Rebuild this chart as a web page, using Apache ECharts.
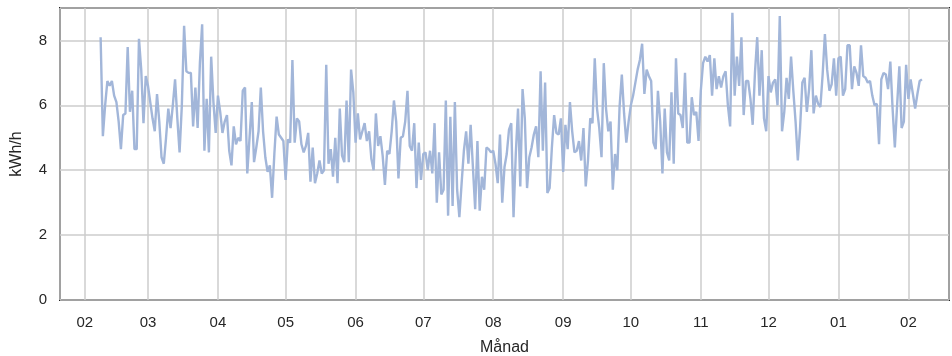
<!DOCTYPE html>
<html>
<head>
<meta charset="utf-8">
<script src="https://cdn.jsdelivr.net/npm/echarts@6/dist/echarts.min.js"></script>
<style>
  html, body { margin: 0; padding: 0; background: #fff; }
  #chart { width: 952px; height: 356px; }
</style>
</head>
<body>
<div id="chart"></div>
<script>
// daily mean power, kWh/h, starting 2022-02-08
var startDate = [2022, 1, 8];
var kwh = [
    8.1, 5.05, 6.0, 6.75, 6.6, 6.75, 6.3, 6.1, 5.5, 4.65, 5.7, 5.75, 7.8, 5.8, 6.45, 4.65, 4.65, 8.05, 7.1, 5.45,
    6.9, 6.6, 6.1, 5.6, 5.2, 6.35, 5.5, 4.4, 4.2, 5.0, 5.9, 5.3, 6.0, 6.8, 5.6, 4.55, 6.0, 8.45, 7.05, 7.0,
    7.0, 5.35, 6.55, 5.3, 7.3, 8.5, 4.6, 6.2, 4.55, 7.5, 6.1, 5.15, 6.3, 5.8, 5.15, 5.5, 5.7, 4.6, 4.15, 5.35,
    4.8, 5.0, 4.9, 6.45, 6.55, 3.9, 5.0, 6.1, 4.25, 4.7, 5.2, 6.55, 5.2, 4.4, 3.95, 4.15, 3.15, 4.5, 5.65, 5.1,
    5.0, 4.9, 3.7, 4.95, 4.85, 7.4, 4.85, 5.6, 5.5, 4.8, 4.55, 4.75, 5.15, 3.65, 4.7, 3.6, 3.9, 4.3, 3.9, 4.0,
    7.25, 4.2, 4.65, 3.8, 5.0, 3.6, 5.9, 4.45, 4.25, 6.15, 4.25, 7.1, 6.4, 4.85, 5.75, 4.95, 5.2, 5.45, 4.9, 5.2,
    4.35, 4.0, 5.75, 4.75, 5.05, 4.45, 3.55, 4.6, 4.5, 5.2, 6.15, 5.5, 3.75, 5.0, 5.05, 5.5, 6.45, 4.75, 4.6, 5.45,
    3.45, 4.85, 3.7, 4.5, 4.55, 4.0, 4.6, 3.9, 5.45, 3.0, 4.55, 3.25, 3.4, 6.15, 2.6, 5.65, 2.9, 6.1, 3.4, 2.55,
    3.6, 4.6, 5.2, 4.2, 5.4, 4.1, 2.8, 4.9, 2.75, 3.8, 3.4, 4.7, 4.65, 4.55, 4.6, 4.2, 3.6, 5.1, 3.0, 4.1,
    4.5, 5.25, 5.45, 2.55, 4.5, 5.9, 3.5, 6.5, 5.6, 3.45, 4.4, 4.7, 5.1, 5.35, 4.4, 7.05, 4.6, 6.7, 3.3, 3.45,
    4.7, 5.7, 5.15, 5.1, 5.6, 3.95, 5.4, 4.65, 6.1, 5.2, 4.55, 4.6, 4.9, 4.3, 5.3, 3.5, 4.3, 5.6, 5.45, 7.45,
    5.9, 5.3, 4.4, 7.3, 5.9, 5.2, 5.5, 3.4, 4.5, 4.0, 5.95, 6.95, 5.75, 4.85, 5.5, 6.0, 6.3, 6.7, 7.1, 7.4,
    7.9, 6.35, 7.1, 6.9, 6.75, 4.85, 4.65, 6.45, 5.5, 3.9, 5.9, 4.55, 4.3, 6.4, 4.2, 7.45, 5.75, 5.7, 5.3, 7.0,
    4.85, 4.85, 6.25, 5.7, 5.8, 4.9, 6.45, 7.3, 7.5, 7.35, 7.55, 6.3, 7.45, 6.5, 6.9, 6.55, 6.9, 7.05, 6.0, 5.35,
    8.85, 6.3, 7.5, 6.6, 8.1, 5.7, 6.75, 6.75, 6.2, 5.4, 7.0, 8.1, 6.3, 7.7, 5.6, 5.2, 6.9, 6.4, 6.7, 6.8,
    6.0, 8.75, 5.2, 5.8, 6.85, 6.2, 7.5, 6.45, 5.5, 4.3, 5.3, 6.7, 6.85, 5.8, 6.5, 7.7, 5.75, 6.3, 6.05, 5.95,
    6.95, 8.2, 7.1, 6.45, 6.65, 7.45, 6.3, 7.45, 7.5, 6.3, 6.5, 7.85, 7.85, 6.5, 7.2, 7.0, 6.6, 7.85, 6.9, 6.85,
    6.7, 6.75, 6.3, 6.0, 6.05, 4.8, 6.8, 7.0, 6.95, 6.5, 7.35, 5.9, 4.7, 6.0, 7.2, 5.3, 5.5, 7.25, 6.2, 6.8,
    6.35, 5.9, 6.35, 6.75, 6.8
];
var axisStart = '2022-01-21';
var axisEnd = '2023-02-19';
var yTicks = [0, 2, 4, 6, 8];

function pad(n) { return (n < 10 ? '0' : '') + n; }

var seriesData = kwh.map(function (v, i) {
    var d = new Date(startDate[0], startDate[1], startDate[2] + i);
    return [d.getFullYear() + '-' + pad(d.getMonth() + 1) + '-' + pad(d.getDate()), v];
});

var chartDom = document.getElementById('chart');
var myChart = echarts.init(chartDom);
var font = 'Liberation Sans, Arial, sans-serif';
var textColor = '#262626';

var option = {
    animation: false,
    grid: {
        left: 60,
        right: 3,
        top: 8,
        bottom: 56,
        outerBoundsMode: 'none',
        show: true,
        borderColor: '#222222',
        borderWidth: 2
    },
    xAxis: {
        type: 'time',
        min: axisStart,
        max: axisEnd,
        minInterval: 28 * 86400000,
        maxInterval: 31 * 86400000,
        name: 'Månad',
        nameLocation: 'middle',
        nameGap: 40,
        nameTextStyle: {fontFamily: font, fontSize: 16, color: textColor},
        axisLine: {show: false},
        axisTick: {show: false},
        axisLabel: {
            formatter: '{MM}',
            fontFamily: font,
            fontSize: 15,
            color: textColor,
            margin: 15
        },
        splitLine: {show: true, lineStyle: {color: '#cccccc', width: 1.5}}
    },
    yAxis: {
        type: 'value',
        min: 0,
        max: 9,
        interval: 2,
        name: 'kWh/h',
        nameLocation: 'middle',
        nameGap: 35,
        nameTextStyle: {fontFamily: font, fontSize: 16, color: textColor},
        axisLine: {show: false},
        axisTick: {show: false},
        axisLabel: {
            showMaxLabel: false,
            fontFamily: font,
            fontSize: 15,
            color: textColor,
            margin: 13,
            formatter: function (v) { return yTicks.indexOf(v) >= 0 ? String(v) : ''; }
        },
        splitLine: {show: true, lineStyle: {color: '#cccccc', width: 1.5}}
    },
    series: [
        {
            name: 'kWh/h',
            type: 'line',
            data: seriesData,
            showSymbol: false,
            symbol: 'none',
            lineStyle: {color: '#a2b6d9', width: 2.4},
            z: 3
        }
    ]
};

option && myChart.setOption(option);
</script>
</body>
</html>
